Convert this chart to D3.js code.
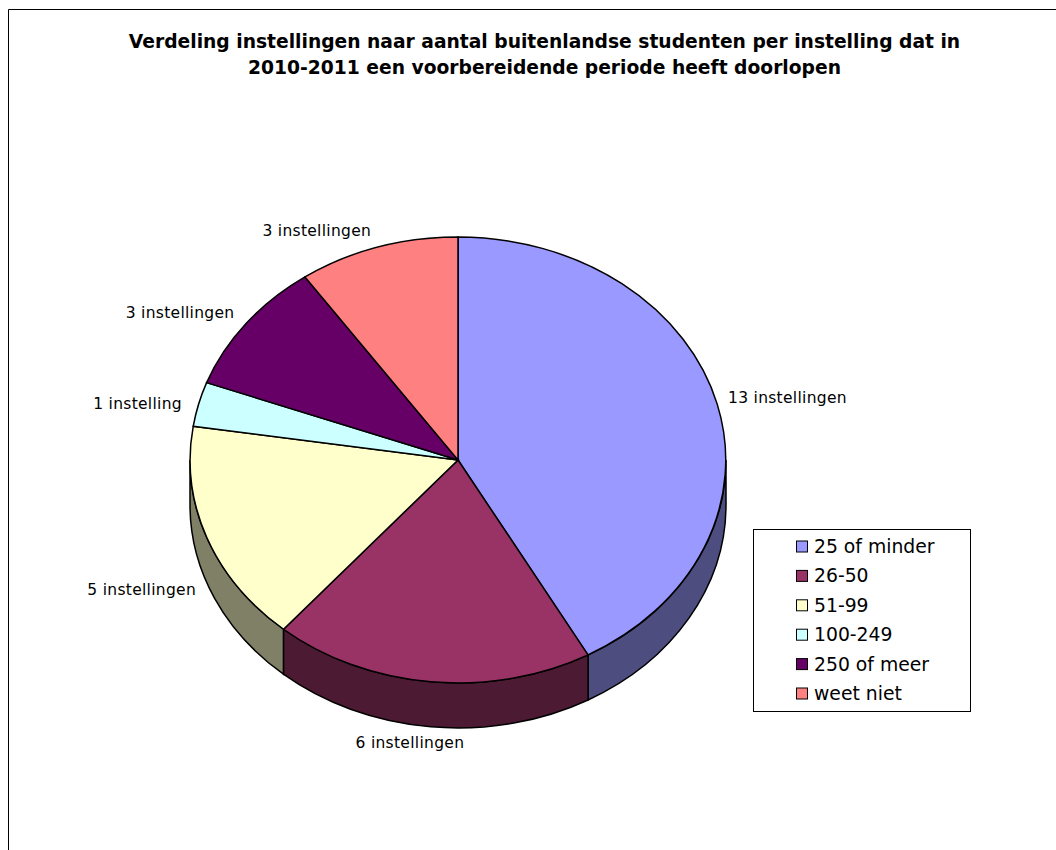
<!DOCTYPE html>
<html>
<head>
<meta charset="utf-8">
<script src="https://cdn.jsdelivr.net/npm/d3@7"></script>
<style>
  html, body { margin: 0; padding: 0; background: #fff; overflow: hidden; }
  text { font-family: "DejaVu Sans", Verdana, sans-serif; fill: #000; }
</style>
</head>
<body>
<div id="chart"></div>
<script>
// chart data
const categories = ['25 of minder', '26-50', '51-99', '100-249', '250 of meer', 'weet niet'];
const values = [13, 6, 5, 1, 3, 3];
const sliceLabels = ['13 instellingen', '6 instellingen', '5 instellingen', '1 instelling', '3 instellingen', '3 instellingen'];
const titleLines = [
    'Verdeling instellingen naar aantal buitenlandse studenten per instelling dat in',
    '2010-2011 een voorbereidende periode heeft doorlopen'
];
const colors = ['#9999ff', '#993366', '#ffffcc', '#ccffff', '#660066', '#ff8080'];

// layout
const width = 1056, height = 850;
const cx = 458, cy = 460, rx = 268, ry = 223, depth = 45;
const labelNudge = [[70, -7], [-21, 61], [-65, 52], [-61, -1], [-66, -11], [-61, -17]];
const legendBox = { x: 753.5, y: 529.5, w: 217, h: 182 };

const svg = d3.select('#chart').append('svg')
    .attr('width', width)
    .attr('height', height)
    .style('display', 'block');

// outer frame, cut off by the bottom and right of the picture
svg.append('path')
    .attr('d', `M8.5,${height + 2}V9.5H${width + 2}`)
    .attr('fill', 'none')
    .attr('stroke', '#000');

svg.selectAll('.title')
    .data(titleLines)
    .enter()
    .append('text')
    .attr('class', 'title')
    .attr('x', 544.5)
    .attr('y', (d, i) => 48 + i * 25.5)
    .attr('text-anchor', 'middle')
    .style('font-size', '18.7px')
    .style('font-weight', 'bold')
    .text(d => d);

const pie = d3.pie().sort(null).value(d => d)(values);

// everything is drawn on a unit circle and squashed to an ellipse
const pieGroup = svg.append('g')
    .attr('transform', `translate(${cx},${cy}) scale(${rx},${ry})`);

// side wall of the slices in the front half (angles run clockwise from the top)
function wallPath(a0, a1) {
    const p = d3.path();
    const d = depth / ry;
    p.arc(0, 0, 1, a0 - Math.PI / 2, a1 - Math.PI / 2, false);
    p.arc(0, d, 1, a1 - Math.PI / 2, a0 - Math.PI / 2, true);
    p.closePath();
    return p.toString();
}

pie.forEach((s, i) => {
    const a0 = Math.max(s.startAngle, Math.PI / 2);
    const a1 = Math.min(s.endAngle, Math.PI * 1.5);
    if (a1 <= a0) return;
    pieGroup.append('path')
        .attr('d', wallPath(a0, a1))
        .attr('fill', d3.interpolateRgb(colors[i], '#000')(0.5))
        .attr('stroke', '#000')
        .attr('stroke-width', 1.5)
        .attr('vector-effect', 'non-scaling-stroke');
});

const arc = d3.arc().innerRadius(0).outerRadius(1);

pieGroup.selectAll('.slice')
    .data(pie)
    .enter()
    .append('path')
    .attr('class', 'slice')
    .attr('d', arc)
    .attr('fill', (d, i) => colors[i])
    .attr('stroke', '#000')
    .attr('stroke-width', 1.5)
    .attr('vector-effect', 'non-scaling-stroke');

// slice labels, placed from the rim point at the middle of each slice
svg.selectAll('.slice-label')
    .data(pie)
    .enter()
    .append('text')
    .attr('class', 'slice-label')
    .attr('x', (d, i) => cx + rx * Math.sin((d.startAngle + d.endAngle) / 2) + labelNudge[i][0])
    .attr('y', (d, i) => cy - ry * Math.cos((d.startAngle + d.endAngle) / 2) + labelNudge[i][1])
    .attr('dy', '0.35em')
    .attr('text-anchor', 'middle')
    .style('font-size', '15.5px')
    .style('letter-spacing', '0.3px')
    .text((d, i) => sliceLabels[i]);

// legend
const legend = svg.append('g').attr('class', 'legend');

legend.append('rect')
    .attr('x', legendBox.x)
    .attr('y', legendBox.y)
    .attr('width', legendBox.w)
    .attr('height', legendBox.h)
    .attr('fill', '#fff')
    .attr('stroke', '#000');

const legendY = d3.scalePoint()
    .domain(categories)
    .range([546.5, 693.5]);

const legendItems = legend.selectAll('.legend-item')
    .data(categories)
    .enter()
    .append('g')
    .attr('class', 'legend-item')
    .attr('transform', d => `translate(0,${legendY(d)})`);

legendItems.append('rect')
    .attr('x', 796.5)
    .attr('y', -5.5)
    .attr('width', 11)
    .attr('height', 11)
    .attr('fill', (d, i) => colors[i])
    .attr('stroke', '#000');

legendItems.append('text')
    .attr('x', 814)
    .attr('dy', '0.35em')
    .style('font-size', '18.8px')
    .text(d => d);
</script>
</body>
</html>
